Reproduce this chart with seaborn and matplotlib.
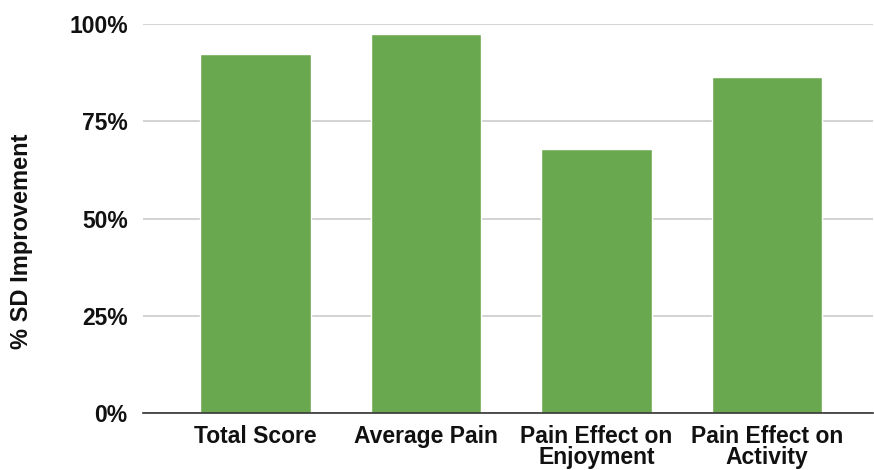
import matplotlib
matplotlib.use("Agg")
import matplotlib.pyplot as plt
import pandas as pd
import seaborn as sns
from matplotlib.ticker import FuncFormatter

categories = ["Total Score", "Average Pain", "Pain Effect on\nEnjoyment", "Pain Effect on\nActivity"]
sd_improvement = [92.4, 97.5, 67.9, 86.4]
y_ticks = [0, 25, 50, 75, 100]

df = pd.DataFrame({"measure": categories, "pct": sd_improvement})

sns.set_theme(style="white")
plt.rcParams["font.family"] = ["Liberation Sans", "DejaVu Sans"]

fig = plt.figure(figsize=(8.74, 4.70), dpi=100)
ax = fig.add_axes([0.1636, 0.1213, 0.835, 0.8276])

sns.barplot(data=df, x="measure", y="pct", color="#6aa84f", saturation=1,
            width=0.65, ax=ax, zorder=3)

ax.set_ylim(0, 100)
ax.set_xlim(-0.66, 3.62)
ax.set_yticks(y_ticks)
ax.yaxis.set_major_formatter(FuncFormatter(lambda v, p: f"{v:.0f}%"))
ax.yaxis.grid(True, color="#cccccc", linewidth=1.2, zorder=0)
ax.set_axisbelow(True)
for s in ["top", "right", "left"]:
    ax.spines[s].set_visible(False)
ax.spines["bottom"].set_color("#333333")
ax.spines["bottom"].set_linewidth(1.2)
ax.spines["bottom"].set_zorder(4)

ax.tick_params(axis="both", length=0, labelsize=16.5, colors="#111111")
ax.tick_params(axis="x", pad=9)
ax.tick_params(axis="y", pad=11)
for lbl in ax.get_xticklabels() + ax.get_yticklabels():
    lbl.set_fontweight("bold")
for lbl in ax.get_xticklabels():
    lbl.set_linespacing(0.88)

ax.set_xlabel("")
ax.set_ylabel("% SD Improvement", fontsize=17, fontweight="bold", color="#111111")
ax.yaxis.set_label_coords(-0.151, 0.442)

fig.savefig("out.png", dpi=100)
